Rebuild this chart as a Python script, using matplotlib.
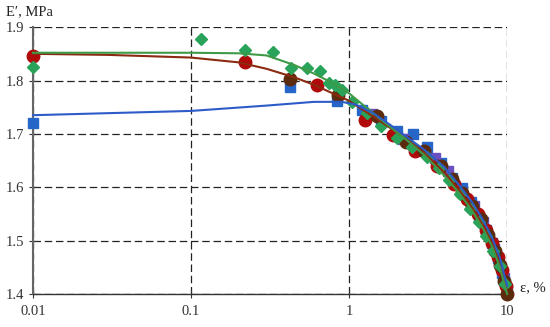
import matplotlib
matplotlib.use('Agg')
from matplotlib import pyplot as plt

plt.rcParams['font.family'] = ['Liberation Serif', 'DejaVu Serif']

# fitted curves
brown_x = [0.01, 0.03, 0.1, 0.2, 0.3, 0.45, 0.6, 0.8, 1.0, 1.3, 1.7, 2.2, 3, 4, 5, 6, 7, 8, 9, 10]
brown_y = [1.850, 1.848, 1.843, 1.834, 1.822, 1.806, 1.792, 1.775, 1.762, 1.740, 1.717, 1.695,
           1.664, 1.628, 1.594, 1.562, 1.530, 1.497, 1.455, 1.405]
green_x = brown_x
green_y = [1.852, 1.852, 1.852, 1.851, 1.847, 1.829, 1.813, 1.794, 1.776, 1.748, 1.720, 1.694,
           1.660, 1.622, 1.588, 1.556, 1.524, 1.490, 1.450, 1.400]
blue_x = [0.01, 0.1, 0.3, 0.6, 0.9, 1.1, 1.4, 1.8, 2.3, 3, 4, 5, 6, 7, 8, 9, 10]
blue_y = [1.735, 1.743, 1.753, 1.760, 1.760, 1.755, 1.740, 1.718, 1.695, 1.670, 1.638, 1.603,
          1.572, 1.540, 1.507, 1.468, 1.415]

# measured points
red_x = [0.01, 0.22, 0.63, 1.26, 1.9, 2.6, 3.6, 4.6, 5.6, 6.5, 7.3, 8.0, 8.7, 9.3, 9.8]
red_y = [1.845, 1.834, 1.792, 1.726, 1.697, 1.668, 1.640, 1.607, 1.578, 1.550, 1.520, 1.495,
         1.470, 1.445, 1.415]
dark_x = [0.42, 0.85, 1.5, 2.3, 3.0, 3.8, 4.5, 5.2, 6.0, 6.8, 7.6, 8.4, 9.0, 9.6, 10]
dark_y = [1.803, 1.772, 1.733, 1.685, 1.667, 1.640, 1.615, 1.590, 1.565, 1.540, 1.510, 1.480,
          1.455, 1.425, 1.400]
dia_x = [0.01, 0.116, 0.22, 0.33, 0.43, 0.54, 0.65, 0.75, 0.82, 0.9, 1.05, 1.3, 1.6, 2.0, 2.5,
         3.1, 3.7, 4.3, 5.0, 5.8, 6.6, 7.4, 8.2, 9.0, 9.7]
dia_y = [1.825, 1.878, 1.857, 1.853, 1.823, 1.823, 1.818, 1.795, 1.792, 1.782, 1.760, 1.740,
         1.714, 1.692, 1.675, 1.656, 1.636, 1.614, 1.588, 1.560, 1.534, 1.508, 1.480, 1.452, 1.418]
sq_x = [0.01, 0.42, 0.84, 1.2, 1.6, 2.0, 2.54, 3.1, 3.8, 4.5, 5.2, 5.9, 6.6, 7.3, 8.0, 8.7, 9.3, 10]
sq_y = [1.720, 1.787, 1.761, 1.745, 1.724, 1.705, 1.700, 1.675, 1.645, 1.618, 1.598, 1.572,
        1.545, 1.520, 1.495, 1.468, 1.440, 1.410]
pur_x = [1.4, 2.2, 3.5, 4.2, 6.2, 7.0, 8.3, 9.5]
pur_y = [1.737, 1.690, 1.655, 1.630, 1.565, 1.535, 1.485, 1.430]

xticks = [0.01, 0.1, 1, 10]
xlabels = ['0.01', '0.1', '1', '10']
yticks = [1.4, 1.5, 1.6, 1.7, 1.8, 1.9]

fig = plt.figure(figsize=(5.5, 3.27), dpi=100)
ax = fig.add_axes([0.06, 0.101, 0.862, 0.816])

ax.plot(sq_x, sq_y, 's', color='#2566c8', ms=6.5, zorder=3)
ax.plot(pur_x, pur_y, 's', color='#6a4fc0', ms=6.5, zorder=3)
ax.plot(red_x, red_y, 'o', color='#b00a0a', ms=9, zorder=3)
ax.plot(dark_x, dark_y, 'o', color='#5c2a0c', ms=9, zorder=3)
ax.plot(dia_x, dia_y, 'D', color='#2aa35a', ms=6.5, zorder=4)
ax.plot(brown_x, brown_y, '-', color='#8b2a10', lw=1.5, zorder=5)
ax.plot(green_x, green_y, '-', color='#3f9a48', lw=1.5, zorder=5)
ax.plot(blue_x, blue_y, '-', color='#2d5cc8', lw=1.5, zorder=5)

ax.set_xscale('log')
ax.set_xlim(0.01, 10)
ax.set_ylim(1.4, 1.9)
ax.set_xticks(xticks)
ax.set_xticklabels(xlabels)
ax.set_yticks(yticks)
ax.set_yticklabels(['%.1f' % v for v in yticks])
ax.minorticks_off()
ax.tick_params(direction='inout', length=6, labelsize=10.5, colors='#333333')
ax.tick_params(axis='x', pad=5)

ax.grid(True, linestyle=(0, (6, 3)), color='#222222', lw=0.9)
ax.set_axisbelow(True)
for s in ['top', 'right']:
    ax.spines[s].set_visible(False)
ax.spines['left'].set_color('#666666')
ax.spines['left'].set_linewidth(1.5)
ax.spines['bottom'].set_color('#333333')
ax.spines['bottom'].set_linewidth(1.0)
for ln in ax.lines:
    ln.set_clip_on(False)

fig.text(0.01, 0.955, 'E′, MPa', fontsize=10.5, color='#222222')
fig.text(0.945, 0.11, 'ε, %', fontsize=10.5, color='#222222')

fig.savefig('out.png', dpi=100)
